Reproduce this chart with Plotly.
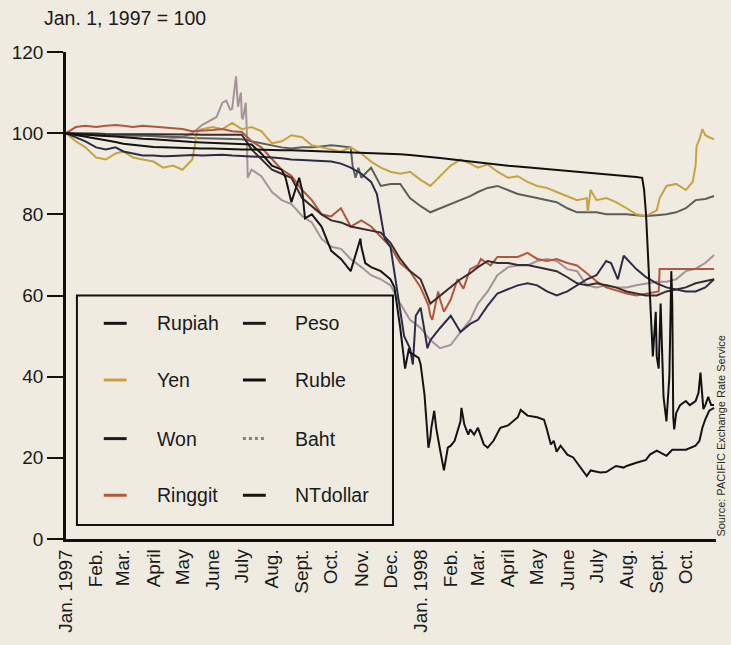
import plotly.graph_objects as go

# ---------------- data ----------------
months = ['1997-01', '1997-02', '1997-03', '1997-04', '1997-05', '1997-06',
          '1997-07', '1997-08', '1997-09', '1997-10', '1997-11', '1997-12',
          '1998-01', '1998-02', '1998-03', '1998-04', '1998-05', '1998-06',
          '1998-07', '1998-08', '1998-09', '1998-10']
month_labels = ['Jan. 1997', 'Feb.', 'Mar.', 'April', 'May', 'June', 'July', 'Aug.',
                'Sept.', 'Oct.', 'Nov.', 'Dec.', 'Jan. 1998', 'Feb.', 'Mar.', 'April',
                'May', 'June', 'July', 'Aug.', 'Sept.', 'Oct.']
sample_days = ['01', '11', '21']
grid_dates = [f'{m}-{d}' for m in months for d in sample_days] + ['1998-10-30']

yen = [100, 98, 96.5, 94, 93.5, 95, 95.5, 94, 93.5, 93, 91.5, 92,
       91, 93.5, 101, 101.5, 101, 102.5, 101, 101.5, 100.5, 97.5, 98, 99.5,
       99, 97, 96.5, 96, 95.5, 96.5, 95, 93, 91.5, 90.5, 90, 90.5,
       88.5, 87, 89.5, 92, 93.5, 92.5, 91.5, 92.3, 90.5, 89, 89.4, 88,
       87, 86.5, 85.5, 84.5, 83.5, 84, 83.5, 84, 83, 81.5, 80, 79.6,
       81, 87, 87.5, 86, 92, 99.5, 98.5]
yen_extra = {'1997-05-14': 97.5, '1997-05-16': 100.5, '1998-06-22': 80.6,
             '1998-06-25': 86, '1998-09-04': 84, '1998-10-08': 88, '1998-10-12': 96.8,
             '1998-10-15': 98.5, '1998-10-18': 101, '1998-10-25': 99}

ruble = [100, 99.6, 99.2, 98.7, 98.2, 97.8, 97.4, 97.1, 96.8, 96.6, 96.5, 96.4,
         96.3, 96.3, 96.2, 96.2, 96.1, 96.1, 96.0, 96.0, 95.9, 95.9, 95.8, 95.8,
         95.7, 95.7, 95.6, 95.6, 95.5, 95.4, 95.3, 95.2, 95.0, 94.9, 94.8, 94.6,
         94.4, 94.2, 93.9, 93.6, 93.3, 93.0, 92.8, 92.5, 92.2, 92.0, 91.8, 91.6,
         91.4, 91.2, 91.0, 90.8, 90.6, 90.4, 90.2, 90.0, 89.8, 89.5, 89.2, 80,
         45, 29, 31, 34, 34, 33, 33]
ruble_extra = {'1998-08-17': 89.0, '1998-08-19': 86, '1998-08-25': 60, '1998-08-28': 45,
               '1998-08-31': 56, '1998-09-03': 42, '1998-09-05': 58, '1998-09-08': 35,
               '1998-09-14': 40, '1998-09-16': 66, '1998-09-17': 58, '1998-09-18': 30,
               '1998-09-19': 27, '1998-09-25': 33, '1998-10-05': 33, '1998-10-14': 36,
               '1998-10-16': 41, '1998-10-19': 32, '1998-10-24': 35, '1998-10-27': 33}

won = [100, 99, 98, 96.5, 96, 96.5, 95.5, 95, 94.5, 94.5, 94.3, 94.4,
       94.5, 94.6, 94.5, 94.6, 94.7, 94.5, 94.4, 94.3, 94.2, 94, 93.8, 93.5,
       93.4, 93.3, 93.2, 93, 92.5, 91.5, 90, 88, 79, 72, 56, 47,
       57, 49, 52, 55, 51, 53, 54, 57.5, 60.5, 61.5, 62.5, 63,
       62.5, 61, 60, 61, 62.5, 64, 65, 68.5, 65, 69, 66.5, 64.5,
       63, 62, 61.5, 61, 61, 62, 64]
won_extra = {'1997-11-17': 85, '1997-11-25': 74, '1997-12-15': 50, '1997-12-24': 43,
             '1997-12-27': 55, '1998-01-08': 47, '1998-07-16': 68, '1998-07-23': 64,
             '1998-07-29': 69.8}

rupiah = [100, 99.8, 99.6, 99.4, 99.3, 99.2, 99, 98.8, 98.6, 98.5, 98.3, 98.1,
          98, 97.8, 97.7, 97.6, 97.5, 97.4, 97.3, 97.2, 95, 92, 91, 83,
          86, 80, 77, 71, 69, 66, 72, 67, 66, 64, 52, 46,
          43, 25, 22, 23, 29, 27, 27.4, 22.5, 26, 28, 30, 30.4,
          30, 27, 21.5, 20.8, 18.8, 15.5, 16.5, 16.5, 18, 18, 18.8, 19.5,
          21.8, 20.5, 22, 22, 23, 29.5, 32.3]
rupiah_extra = {'1997-08-15': 89, '1997-08-29': 89, '1997-09-04': 79, '1997-10-31': 74,
                '1997-11-05': 68, '1997-12-05': 62, '1997-12-16': 42, '1997-12-20': 47,
                '1997-12-30': 44.6, '1998-01-05': 35.5, '1998-01-09': 22.5,
                '1998-01-12': 27.4, '1998-01-15': 31.6, '1998-01-17': 27.4,
                '1998-01-25': 16.9, '1998-01-29': 22.5, '1998-02-05': 24.2,
                '1998-02-12': 32.3, '1998-02-15': 28.2, '1998-02-19': 25.7,
                '1998-02-25': 25.7, '1998-03-07': 23.3, '1998-03-17': 24.2,
                '1998-03-24': 27.4, '1998-04-14': 31.8, '1998-05-08': 29.4,
                '1998-05-15': 23.3, '1998-05-18': 24.2, '1998-05-25': 23,
                '1998-06-07': 20.1, '1998-06-25': 16.9, '1998-07-05': 16.4,
                '1998-07-29': 17.6, '1998-08-25': 20.8, '1998-09-17': 22,
                '1998-10-15': 24.2, '1998-10-18': 27.4, '1998-10-25': 31.6}

ringgit = [100, 101.5, 101.8, 101.5, 101.8, 102, 101.8, 101.5, 101.8, 101.6, 101.5, 101.2,
           101, 100.5, 100.6, 100.8, 101, 100.5, 100.3, 98, 96.5, 93.5, 91, 89.5,
           86, 83.5, 80, 79.5, 81.5, 77, 78.5, 77, 74.5, 72, 68, 66,
           62, 55, 59, 59, 63, 66.5, 67.5, 68, 69.5, 69.5, 69.5, 70.5,
           69, 68.5, 69, 68, 67.4, 65.5, 63.5, 62, 61.3, 60.5, 60, 60.5,
           61, 66.5, 66.5, 66.5, 66.5, 66.5, 66.5]
ringgit_extra = {'1998-01-09': 57.6, '1998-01-13': 54, '1998-01-19': 61, '1998-01-25': 56,
                 '1998-02-08': 64, '1998-02-14': 61.7, '1998-03-04': 69, '1998-03-14': 67.4,
                 '1998-09-03': 61, '1998-09-04': 66.5}

ntdollar = [100, 99.8, 99.7, 99.5, 99.5, 99.6, 99.6, 99.5, 99.4, 99.3, 99.2, 99.2,
            99.0, 98.8, 98.8, 98.7, 98.6, 98.6, 98.5, 98.0, 97.5, 97, 96.5, 96.2,
            96.5, 96.5, 96.8, 97, 96.8, 96.5, 89, 91.5, 87, 87.5, 87.5, 84,
            82, 80.5, 81.5, 82.5, 83.5, 84.5, 85.5, 86.5, 87, 86, 85, 84.5,
            84, 83.5, 83, 81.5, 80.5, 80.5, 80.5, 80, 80, 80, 79.8, 79.6,
            79.8, 80, 80.5, 81.5, 83.5, 83.8, 84.5]
ntdollar_extra = {'1997-10-23': 92, '1997-10-26': 89, '1997-10-29': 91.5}

baht = [100, 99.5, 99.7, 99.5, 99.3, 99.5, 99, 99.2, 99.5, 99.3, 99, 98.8,
        99, 100, 102, 103.4, 107.5, 106, 104, 91, 89.4, 85.5, 83.5, 82.5,
        79.6, 78, 74, 72, 71.5, 69, 67, 65, 64, 62.5, 58, 54,
        52, 49, 47, 47.8, 51, 54, 58, 61, 65, 67, 67.4, 67.4,
        68.5, 69, 68.5, 66.5, 66, 62.5, 62, 62.5, 62, 62, 62.5, 63,
        63.4, 63.4, 64, 66, 66.6, 68, 70]
baht_extra = {'1997-06-05': 104, '1997-06-15': 108, '1997-06-19': 105.8, '1997-06-22': 108,
              '1997-06-25': 114, '1997-06-27': 106.5, '1997-06-30': 110, '1997-07-02': 103.4,
              '1997-07-05': 107.5, '1997-07-06': 101, '1997-07-07': 89}

peso = [100, 100, 99.9, 99.9, 99.8, 99.8, 99.8, 99.8, 99.7, 99.7, 99.7, 99.7,
        99.7, 99.7, 99.6, 99.6, 99.6, 99.6, 99.6, 96, 93.5, 91, 90, 89,
        84, 82, 80, 78.5, 78, 77, 76.5, 76, 75.5, 73, 69, 66,
        64, 58, 60, 62, 64, 65.5, 67, 68.5, 68, 68, 67.5, 67.5,
        67, 66.5, 66, 64.5, 63, 62.5, 63, 62.5, 62, 61, 60.5, 60,
        60, 61, 61.5, 62, 63, 63.5, 64]
peso_extra = {}

# ---------------- styling ----------------
BG = '#efebe0'
INK = '#1a1a1a'
FONT = 'Liberation Sans, Arial, Helvetica, sans-serif'

series = [
    ('Baht', baht, baht_extra, '#a6929a'),
    ('NTdollar', ntdollar, ntdollar_extra, '#5c5f59'),
    ('Yen', yen, yen_extra, '#c9a23f'),
    ('Ringgit', ringgit, ringgit_extra, '#b4563c'),
    ('Peso', peso, peso_extra, '#3b2a2e'),
    ('Won', won, won_extra, '#2c2c48'),
    ('Ruble', ruble, ruble_extra, '#111111'),
    ('Rupiah', rupiah, rupiah_extra, '#141414'),
]


def merged(vals, extra):
    pts = dict(zip(grid_dates, vals))
    pts.update(extra)
    keys = sorted(pts)
    return keys, [pts[k] for k in keys]


fig = go.Figure()
for name, vals, extra, col in series:
    xs, ys = merged(vals, extra)
    fig.add_trace(go.Scatter(x=xs, y=ys, mode='lines', name=name,
                             line=dict(color=col, width=2), showlegend=False))

# plot area geometry in pixels
L, T, W, H = 62, 52, 654, 490


def px(xp):
    return (xp - L) / W


def py(yp):
    return (T + H - yp) / H


shapes = []
annotations = []
shapes.append(dict(type='rect', xref='paper', yref='paper', x0=px(73), x1=px(391),
                   y0=py(528), y1=py(297), line=dict(color='#111111', width=2),
                   fillcolor=BG, layer='above'))
legend_layout = [('Rupiah', 0, 0), ('Peso', 1, 0), ('Yen', 0, 1), ('Ruble', 1, 1),
                 ('Won', 0, 2), ('Baht', 1, 2), ('Ringgit', 0, 3), ('NTdollar', 1, 3)]
row_y = [325, 382, 441, 498]
col_line = [(100, 123), (240, 263)]
col_text = [152, 290]
legend_col = {'Rupiah': '#141414', 'Peso': '#1e1a1a', 'Yen': '#c9a23f', 'Ruble': '#111111',
              'Won': '#1c1c28', 'Baht': '#8c7c84', 'Ringgit': '#b4563c', 'NTdollar': '#161616'}
for name, c, r in legend_layout:
    dash = 'dot' if name == 'Baht' else 'solid'
    shapes.append(dict(type='line', xref='paper', yref='paper',
                       x0=px(col_line[c][0]), x1=px(col_line[c][1]),
                       y0=py(row_y[r]), y1=py(row_y[r]),
                       line=dict(color=legend_col[name], width=3, dash=dash), layer='above'))
    annotations.append(dict(xref='paper', yref='paper', x=px(col_text[c]), y=py(row_y[r]),
                            text=name, showarrow=False, xanchor='left', yanchor='middle',
                            font=dict(family=FONT, size=19.5, color=INK)))

annotations.append(dict(xref='paper', yref='paper', x=px(38), y=py(18),
                        text='Jan. 1, 1997 = 100', showarrow=False, xanchor='left',
                        yanchor='middle', font=dict(family=FONT, size=19.5, color=INK)))
annotations.append(dict(xref='paper', yref='paper', x=px(721), y=py(438),
                        text='Source: PACIFIC Exchange Rate Service', showarrow=False,
                        textangle=-90, xanchor='center', yanchor='middle',
                        font=dict(family=FONT, size=11, color='#2a2a2a')))

fig.update_layout(
    width=731, height=645,
    margin=dict(l=L, r=731 - L - W, t=T, b=645 - T - H, pad=0),
    paper_bgcolor=BG, plot_bgcolor=BG,
    font=dict(family=FONT, size=19, color=INK),
    shapes=shapes, annotations=annotations,
    showlegend=False,
)
fig.update_xaxes(type='date', range=['1997-01-01', '1998-11-01'],
                 tickvals=[f'{m}-01' for m in months], ticktext=month_labels,
                 tickangle=-90, ticks='', showline=True, linecolor='#111111', linewidth=2.5,
                 showgrid=False, zeroline=False, tickfont=dict(family=FONT, size=19, color=INK))
fig.update_yaxes(range=[0, 120], tickvals=[0, 20, 40, 60, 80, 100, 120],
                 ticks='outside', ticklen=16, tickwidth=2, tickcolor='#111111',
                 showline=True, linecolor='#111111', linewidth=2.5,
                 showgrid=False, zeroline=False, tickfont=dict(family=FONT, size=19, color=INK))

fig.write_html('out.html',
               config={'displayModeBar': False},
               post_script="document.body.style.margin='0px';"
                           "document.body.style.background='" + BG + "';")
